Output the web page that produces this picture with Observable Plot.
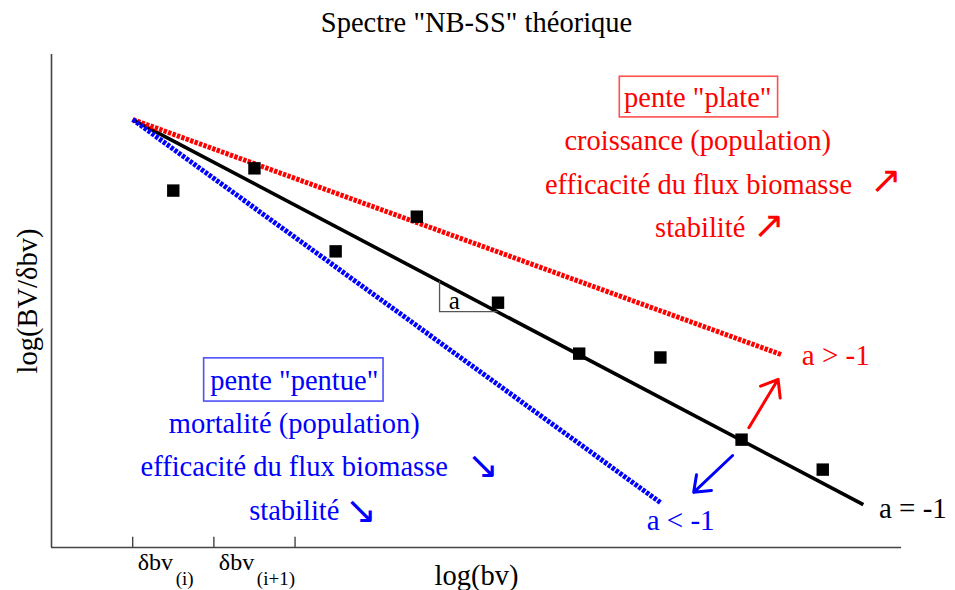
<!DOCTYPE html>
<html><head><meta charset="utf-8">
<script src="https://cdn.jsdelivr.net/npm/d3@7"></script>
<script src="https://cdn.jsdelivr.net/npm/@observablehq/plot@0.6"></script>
<style>body{margin:0;background:#fff}</style>
</head><body><div id="chart"></div>
<script>
const title = 'Spectre "NB-SS" théorique';
const xLabel = "log(bv)";
const yLabel = "log(BV/δbv)";
const tickX = [1, 2, 3];
const tickLabelX = [1, 2];
const tickLabels = ["δbv", "δbv"];
const tickSubs = ["(i)", "(i+1)"];

const pointX = [1.5, 2.5, 3.5, 4.5, 5.5, 6.5, 7.5, 8.5, 9.5];
const pointY = [8.34, 8.86, 6.92, 7.73, 5.72, 4.53, 4.44, 2.52, 1.82];

const lineNames = ["a = -1", "a > -1", "a < -1"];
const lineX1 = [1, 1, 1];
const lineY1 = [10, 10, 10];
const lineX2 = [10, 9, 7.5];
const lineY2 = [1, 4.5, 1.05];
const labelX = [10.61, 9.66, 7.75];
const labelY = [0.91, 4.49, 0.63];

const redText = ['pente "plate"', "croissance (population)", "efficacité du flux biomasse", "stabilité"];
const redTextX = [7.96, 7.96, 7.97, 7.99];
const redTextY = [10.51, 9.49, 8.48, 7.48];
const redGlyphX = [10.28, 8.84];
const redGlyphY = [8.57, 7.52];
const redBox = {x1: 7.0, x2: 8.95, y1: 10.05, y2: 11.0};

const blueText = ['pente "pentue"', "mortalité (population)", "efficacité du flux biomasse", "stabilité"];
const blueTextX = [2.99, 2.99, 2.99, 2.99];
const blueTextY = [3.9, 2.9, 1.88, 0.86];
const blueGlyphX = [5.31, 3.81];
const blueGlyphY = [1.92, 0.86];
const blueBox = {x1: 1.88, x2: 4.09, y1: 3.41, y2: 4.42};

const arrowX1 = [8.59, 8.39];
const arrowY1 = [2.80, 2.15];
const arrowX2 = [8.95, 7.91];
const arrowY2 = [3.93, 1.29];
const arrowColors = ["#ff0000", "#0000ff"];

const triX = [4.78, 4.78, 5.49];
const triY = [6.22, 5.51, 5.51];
const triLabel = {x: 4.96, y: 5.77, text: "a"};

const serif = "'Liberation Serif', 'Times New Roman', serif";
const red = "#ff0000", blue = "#0000ff";
const lineColors = ["#000", red, blue];
const lineWidths = [3.6, 5, 5];
const lineDash = [null, "3.4,1.3", "3.4,1.3"];
const fs = 28.5;

const idx = n => d3.range(n);
const marks = [
  Plot.ruleX([0], {stroke: "#444", strokeWidth: 1.6}),
  Plot.ruleY([0], {stroke: "#444", strokeWidth: 1.6}),
  Plot.ruleX(tickX, {y1: 0, y2: 0.24, stroke: "#444", strokeWidth: 1.4}),
  Plot.text(idx(2), {x: i => tickLabelX[i], y: 0, text: i => tickLabels[i], textAnchor: "start", dx: 5, dy: 15, fontSize: 24, fill: "#000"}),
  Plot.text(idx(2), {x: i => tickLabelX[i], y: 0, text: i => tickSubs[i], textAnchor: "start", dx: 43, dy: 31, fontSize: 19, fill: "#000"})
];
lineNames.forEach((n, i) => {
  marks.push(Plot.link([n], {x1: () => lineX1[i], y1: () => lineY1[i], x2: () => lineX2[i], y2: () => lineY2[i],
    stroke: lineColors[i], strokeWidth: lineWidths[i], strokeDasharray: lineDash[i], strokeLinecap: "butt"}));
});
marks.push(
  Plot.line(triX.map((x, i) => ({x, y: triY[i]})), {x: "x", y: "y", stroke: "#555", strokeWidth: 1.3}),
  Plot.text([triLabel], {x: "x", y: "y", text: "text", fontSize: 25, fill: "#000"}),
  Plot.dot(pointX.map((x, i) => ({x, y: pointY[i]})), {x: "x", y: "y", symbol: "square", r: 7, fill: "#000", stroke: "none"}),
  Plot.arrow(idx(2), {x1: i => arrowX1[i], y1: i => arrowY1[i], x2: i => arrowX2[i], y2: i => arrowY2[i],
    stroke: i => arrowColors[i], strokeWidth: 3, headLength: 18, headAngle: 75}),
  Plot.text(idx(3), {x: i => labelX[i], y: i => labelY[i], text: i => lineNames[i], fill: i => lineColors[i], fontSize: 29}),
  Plot.rect([redBox], {x1: "x1", x2: "x2", y1: "y1", y2: "y2", fill: "none", stroke: "#ff5050", strokeWidth: 1.6}),
  Plot.rect([blueBox], {x1: "x1", x2: "x2", y1: "y1", y2: "y2", fill: "none", stroke: "#5050ff", strokeWidth: 1.6}),
  Plot.text(idx(4), {x: i => redTextX[i], y: i => redTextY[i], text: i => redText[i], fill: red, fontSize: fs}),
  Plot.text(idx(2), {x: i => redGlyphX[i], y: i => redGlyphY[i], text: () => "↗", fill: red, fontSize: 38}),
  Plot.text(idx(4), {x: i => blueTextX[i], y: i => blueTextY[i], text: i => blueText[i], fill: blue, fontSize: fs}),
  Plot.text(idx(2), {x: i => blueGlyphX[i], y: i => blueGlyphY[i], text: () => "↘", fill: blue, fontSize: 38}),
  Plot.text([title], {frameAnchor: "top", lineAnchor: "middle", textAnchor: "middle", dy: -32, fontSize: fs, fill: "#000"}),
  Plot.text([xLabel], {frameAnchor: "bottom", lineAnchor: "middle", textAnchor: "middle", dy: 28, fontSize: fs, fill: "#000"}),
  Plot.text([yLabel], {frameAnchor: "left", lineAnchor: "middle", textAnchor: "middle", rotate: -90, dx: -24, fontSize: fs, fill: "#000"})
);

const chart = Plot.plot({
  width: 955, height: 590,
  marginLeft: 51, marginRight: 54, marginTop: 54, marginBottom: 43,
  x: {domain: [0, 10.47], axis: null},
  y: {domain: [0, 11.52], axis: null},
  style: {fontFamily: serif, background: "#fff", overflow: "visible"},
  marks
});
document.getElementById("chart").appendChild(chart);
</script>
</body></html>
